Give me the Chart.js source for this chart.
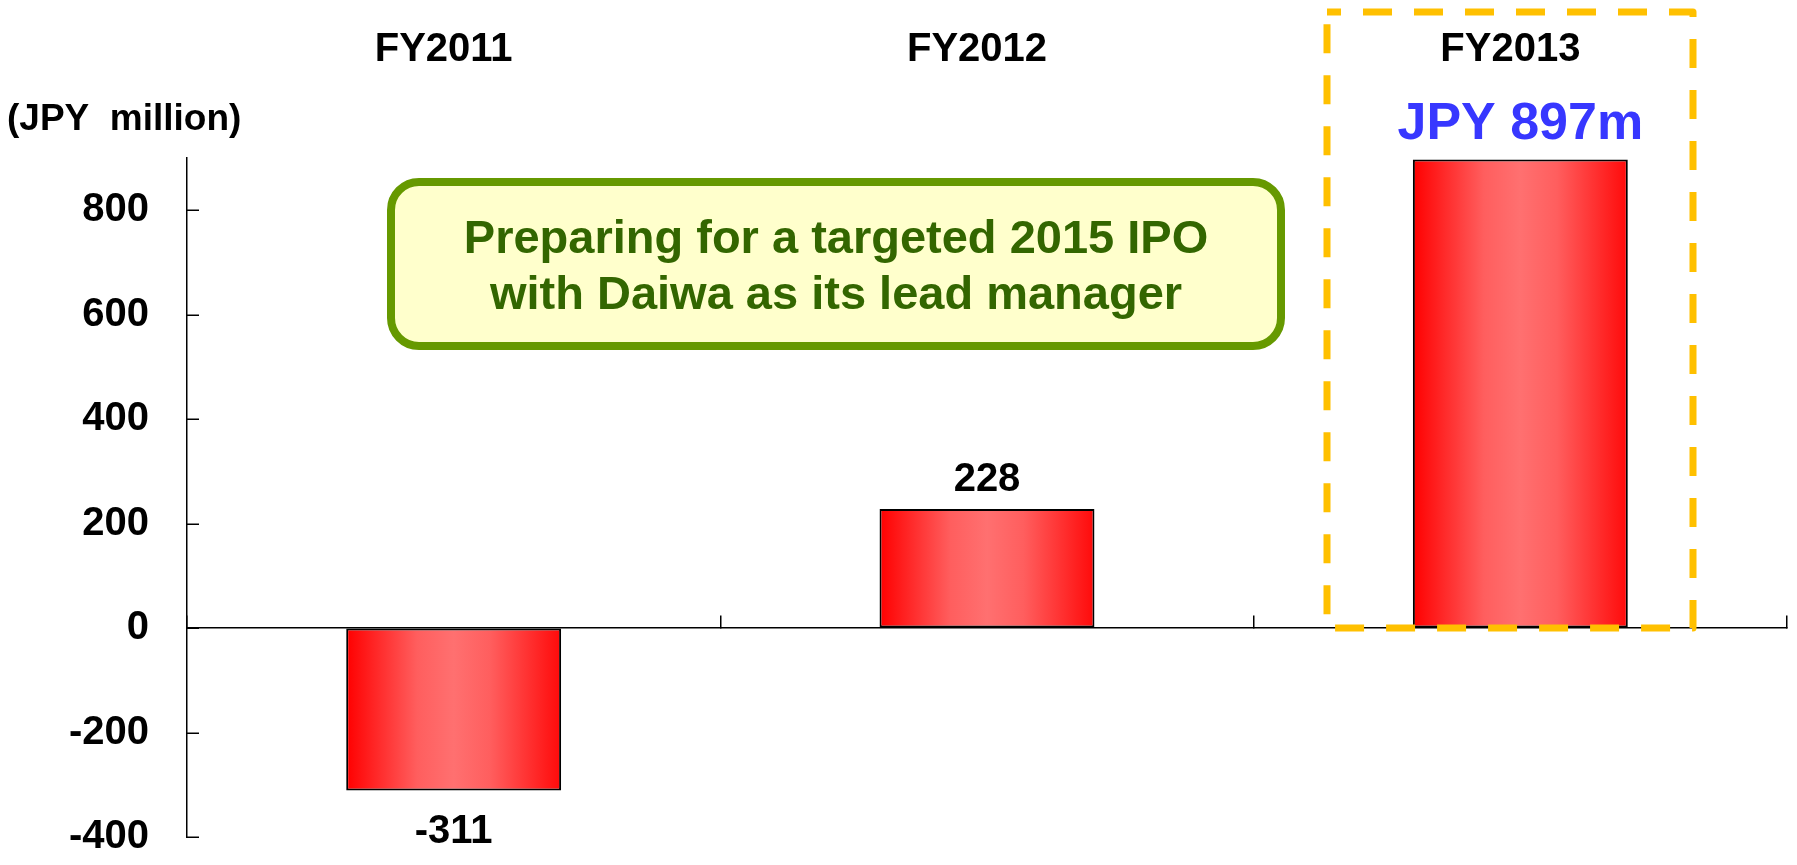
<!DOCTYPE html>
<html>
<head>
<meta charset="utf-8">
<script src="https://cdn.jsdelivr.net/npm/chart.js@4.4.0/dist/chart.umd.min.js"></script>
<style>
html, body { margin: 0; padding: 0; background: #fff; }
#wrap { width: 1797px; height: 865px; }
</style>
</head>
<body>
<div id="wrap"><canvas id="profitChart" width="1797" height="865"></canvas></div>
<script>
var years = ["FY2011", "FY2012", "FY2013"];
var profits = [-311, 228, 897];
var highlightIndex = 2;
var axisMin = -400;
var axisMax = 900;
var axisStep = 200;
var unitLabel = "(JPY  million)";
var noteLines = ["Preparing for a targeted 2015 IPO", "with Daiwa as its lead manager"];

var FONT = '"Liberation Sans", Arial, sans-serif';
var BAR_PCT = 0.403;

// horizontal red -> light red -> red fill, like the original bars
function barFill(c) {
  var chart = c.chart;
  var xs = chart.scales.x;
  if (!chart.chartArea || !xs) return '#ff3030';
  var center = xs.getPixelForValue(c.dataIndex);
  var half = xs.width / years.length * BAR_PCT / 2;
  var g = chart.ctx.createLinearGradient(center - half, 0, center + half, 0);
  g.addColorStop(0, '#ff0000');
  g.addColorStop(0.33, '#ff5e5e');
  g.addColorStop(0.5, '#ff7070');
  g.addColorStop(0.67, '#ff5e5e');
  g.addColorStop(1, '#ff0a0a');
  return g;
}

function valueText(i) {
  return i === highlightIndex ? 'JPY ' + profits[i] + 'm' : String(profits[i]);
}

var annotations = {
  id: 'annotations',
  beforeDatasetsDraw: function (chart) {
    // y tick marks point into the plot area
    var ctx = chart.ctx;
    var ys = chart.scales.y;
    var left = chart.chartArea.left;
    ctx.save();
    ctx.strokeStyle = '#000';
    ctx.lineWidth = 1.5;
    ys.ticks.forEach(function (t) {
      var y = Math.round(ys.getPixelForValue(t.value)) + 0.25;
      ctx.beginPath();
      ctx.moveTo(left, y);
      ctx.lineTo(left + 12, y);
      ctx.stroke();
    });
    ctx.restore();
  },
  afterDatasetsDraw: function (chart) {
    var ctx = chart.ctx;
    var ys = chart.scales.y;
    var meta = chart.getDatasetMeta(0);
    ctx.save();

    // unit label
    ctx.fillStyle = '#000';
    ctx.font = 'bold 37px ' + FONT;
    ctx.textAlign = 'left';
    ctx.textBaseline = 'alphabetic';
    ctx.fillText(unitLabel, 7, 130);

    // value labels
    ctx.textAlign = 'center';
    ctx.textBaseline = 'middle';
    meta.data.forEach(function (bar, i) {
      var hi = i === highlightIndex;
      ctx.font = 'bold ' + (hi ? 52 : 40) + 'px ' + FONT;
      ctx.fillStyle = hi ? '#3737ff' : '#000';
      var y = profits[i] >= 0 ? bar.y - (hi ? 35 : 29) : bar.y + 41;
      ctx.fillText(valueText(i), bar.x, y);
    });

    // note box
    ctx.beginPath();
    ctx.roundRect(391, 182, 890, 164, 28);
    ctx.fillStyle = '#ffffcc';
    ctx.fill();
    ctx.lineWidth = 8;
    ctx.strokeStyle = '#669900';
    ctx.stroke();
    ctx.fillStyle = '#336600';
    ctx.font = 'bold 47px ' + FONT;
    ctx.textBaseline = 'alphabetic';
    ctx.fillText(noteLines[0], 836, 253);
    ctx.fillText(noteLines[1], 836, 309);

    // dashed highlight frame round FY2013
    var bottom = ys.getPixelForValue(0);
    ctx.beginPath();
    ctx.rect(1327, 12, 366, bottom - 12);
    ctx.setLineDash([29, 22]);
    ctx.lineDashOffset = 15;
    ctx.lineWidth = 7;
    ctx.lineJoin = 'round';
    ctx.strokeStyle = '#ffc000';
    ctx.stroke();

    ctx.restore();
  }
};

var ctx = document.getElementById('profitChart');
var profitChart = new Chart(ctx, {
  type: 'bar',
  data: {
    labels: years,
    datasets: [{
      data: profits,
      backgroundColor: barFill,
      borderColor: '#000',
      borderWidth: 2,
      borderSkipped: false,
      barPercentage: BAR_PCT,
      categoryPercentage: 1
    }]
  },
  options: {
    responsive: false,
    devicePixelRatio: 1,
    animation: false,
    layout: { padding: { left: 0, top: 0, right: 10, bottom: 28 } },
    plugins: {
      legend: { display: false },
      tooltip: { enabled: false }
    },
    scales: {
      x: {
        type: 'category',
        position: 'top',
        offset: true,
        grid: { display: false, drawTicks: false },
        border: { display: false },
        ticks: {
          padding: 84,
          labelOffset: -10,
          color: '#000',
          font: { family: FONT, size: 40, weight: 'bold' }
        },
        afterFit: function (s) { s.height = 158; }
      },
      x0: {
        type: 'category',
        position: { y: 0 },
        offset: true,
        grid: {
          offset: true,
          drawOnChartArea: false,
          drawTicks: true,
          tickLength: -13,
          color: '#000',
          lineWidth: 1.5
        },
        border: { display: true, color: '#000', width: 1.5 },
        ticks: { display: false }
      },
      y: {
        min: axisMin,
        max: axisMax,
        grid: { drawOnChartArea: false, drawTicks: false },
        border: { display: true, color: '#000', width: 1.5 },
        ticks: {
          stepSize: axisStep,
          includeBounds: false,
          padding: 38,
          color: '#000',
          font: { family: FONT, size: 40, weight: 'bold' },
          callback: function (v) { return String(v); }
        },
        afterFit: function (s) {
          s.width = 187;
          s.paddingTop = 0;
          s.paddingBottom = 0;
        }
      }
    }
  },
  plugins: [annotations]
});
</script>
</body>
</html>
